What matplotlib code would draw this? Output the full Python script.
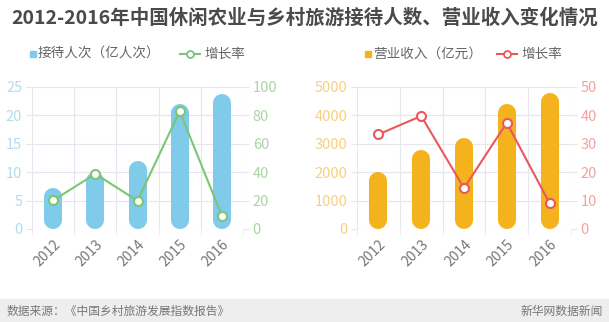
import matplotlib
matplotlib.use("Agg")
import matplotlib.pyplot as plt
from matplotlib.lines import Line2D
from matplotlib.patches import Rectangle

plt.rcParams['font.family'] = ['Noto Sans CJK SC', 'DejaVu Sans']

years = ["2012", "2013", "2014", "2015", "2016"]
visitors = [7.2, 10.0, 11.9, 22.0, 23.8]          # 接待人次（亿人次）
visitors_growth = [20.1, 38.8, 19.9, 82.9, 9.3]    # 增长率 %
revenue = [1990, 2780, 3190, 4390, 4790]           # 营业收入（亿元）
revenue_growth = [33.3, 39.8, 14.4, 37.4, 9.1]     # 增长率 %

blue = '#7fcbe9'
green = '#7cc576'
orange = '#f4b31d'
red = '#e9585c'
grid_c = '#e6e6ee'

fig = plt.figure(figsize=(6.09, 3.22), dpi=100)
W, H = 609, 322


def make_panel(x0, x1, bars, growth, ymax, ystep, gmax, gstep,
               bar_c, line_c, lab_c, glab_c):
    ax = fig.add_axes([x0 / W, 1 - 229 / H, (x1 - x0) / W, 142 / H])
    ax.set_xlim(-0.5, 4.5)
    ax.set_ylim(0, ymax)
    ax.set_yticks(range(0, ymax + 1, ystep))
    ax.set_xticks(range(len(years)))
    ax.set_xticklabels(years, rotation=45, ha='right', rotation_mode='anchor',
                       color='#777777', fontsize=10)
    ax.set_xticks([i - 0.5 for i in range(len(years) + 1)], minor=True)
    ax.tick_params(axis='x', which='major', length=0, pad=6)
    ax.tick_params(axis='x', which='minor', length=4, color=grid_c)
    ax.tick_params(axis='y', length=4, color=grid_c, labelcolor=lab_c,
                   labelsize=10.5, pad=3)
    ax.grid(True, axis='y', color=grid_c, lw=0.8)
    ax.grid(True, axis='x', which='minor', color=grid_c, lw=0.8)
    for s in ax.spines.values():
        s.set_visible(False)
    ax.set_axisbelow(True)

    # capsule bars: thick lines with round caps
    r = 9 * ymax / 142
    for i, v in enumerate(bars):
        ax.plot([i, i], [r, v - r], color=bar_c, lw=13, solid_capstyle='round',
                zorder=2)

    ax2 = ax.twinx()
    ax2.set_ylim(0, gmax)
    ax2.set_yticks(range(0, gmax + 1, gstep))
    ax2.tick_params(axis='y', length=4, color=grid_c, labelcolor=glab_c,
                    labelsize=10.5, pad=3)
    for s in ax2.spines.values():
        s.set_visible(False)
    ax2.plot(range(len(years)), growth, color=line_c, lw=1.5, marker='o',
             ms=6.5, mfc='white', mec=line_c, mew=1.5, zorder=3)
    return ax, ax2


make_panel(32, 243, visitors, visitors_growth, 25, 5, 100, 20,
           blue, green, '#b2dcec', '#a9d6a3')
make_panel(357, 571, revenue, revenue_growth, 5000, 1000, 50, 10,
           orange, red, '#f7d17e', '#f0a4a2')

fig.text(0.5, 1 - 18 / H, "2012-2016年中国休闲农业与乡村旅游接待人数、营业收入变化情况",
         ha='center', va='center', fontsize=14, fontweight='bold', color='#4a4a4a')


# legend drawn by hand, positions in pixels from top-left
def legend(sq_x, label1, line_x, label2, bar_c, line_c, y=54):
    fy = 1 - y / H
    fig.add_artist(Line2D([sq_x / W], [fy], ls='none', marker='s', ms=5,
                          color=bar_c, transform=fig.transFigure))
    fig.text((sq_x + 5) / W, fy, label1, ha='left', va='center',
             fontsize=9.8, color='#666666')
    fig.add_artist(Line2D([line_x / W, (line_x + 20) / W], [fy, fy], color=line_c,
                          lw=1.5, transform=fig.transFigure))
    fig.add_artist(Line2D([(line_x + 10) / W], [fy], marker='o', ms=5,
                          mfc='white', mec=line_c, mew=1.3,
                          transform=fig.transFigure))
    fig.text((line_x + 24) / W, fy, label2, ha='left', va='center',
             fontsize=9.8, color='#666666')


legend(33, "接待人次（亿人次）", 180, "增长率", blue, green)
legend(368, "营业收入（亿元）", 497, "增长率", orange, red)

# footer band
fig.patches.append(Rectangle((0, 0), 1, 23 / H, transform=fig.transFigure,
                             color='#eeeeee', zorder=0))
fig.text(7 / W, 11 / H, "数据来源：《中国乡村旅游发展指数报告》", ha='left',
         va='center', fontsize=8.5, color='#777777', style='italic')
fig.text(603 / W, 11 / H, "新华网数据新闻", ha='right', va='center',
         fontsize=8.5, color='#777777', style='italic')

fig.savefig("out.png", dpi=100)
